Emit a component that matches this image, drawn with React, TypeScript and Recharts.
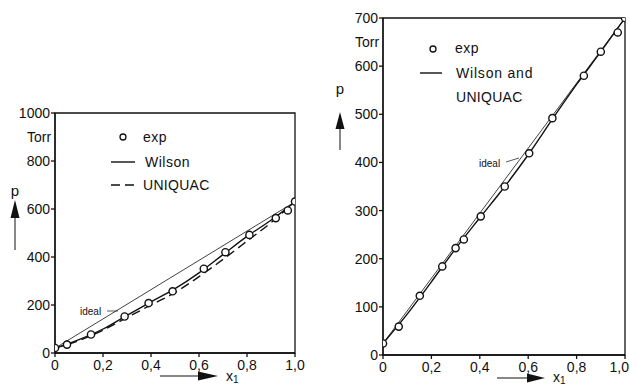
import React from "react";
import { ComposedChart, Line, Scatter, XAxis, YAxis, ReferenceArea } from "recharts";

// ---- Left panel data ----
const leftExpX = [0, 0.05, 0.15, 0.29, 0.39, 0.49, 0.62, 0.71, 0.81, 0.92, 0.97, 1.0];
const leftExpP = [21, 35, 77, 152, 208, 257, 351, 420, 492, 562, 594, 631];
const leftCurveX = [0, 0.1, 0.2, 0.3, 0.4, 0.5, 0.6, 0.7, 0.8, 0.9, 1.0];
const leftWilsonP = [20, 56, 100, 157, 213, 268, 334, 410, 486, 553, 630];
const leftUniquacP = [20, 52, 95, 148, 200, 252, 318, 390, 466, 543, 630];
const leftIdealX = [0, 1];
const leftIdealP = [20, 630];

// ---- Right panel data ----
const rightExpX = [0, 0.065, 0.152, 0.245, 0.3, 0.334, 0.404, 0.503, 0.604, 0.7, 0.83, 0.9, 0.97, 1.0];
const rightExpP = [24, 59, 123, 184, 222, 240, 288, 350, 419, 492, 580, 630, 670, 700];
const rightCurveX = [0, 0.1, 0.2, 0.3, 0.4, 0.5, 0.6, 0.7, 0.8, 0.9, 1.0];
const rightWilsonP = [24, 85, 152, 221, 285, 348, 416, 490, 562, 630, 700];
const rightIdealX = [0, 1];
const rightIdealP = [24, 700];

const xTicks = [0, 0.2, 0.4, 0.6, 0.8, 1.0];
const leftYTicks = [0, 200, 400, 600, 800, 1000];
const rightYTicks = [0, 100, 200, 300, 400, 500, 600, 700];

const zip = (xs: number[], ps: number[]) => xs.map((x, i) => ({ x, p: ps[i] }));

const INK = "#111";
const FONT = "'Liberation Sans', Arial, sans-serif";
const tickStyle = { fontSize: 14, fill: INK, fontFamily: FONT };
const fmtX = (v: number) => (v === 0 ? "0" : v.toFixed(1).replace(".", ","));

const ExpDot = (props: any) => {
  const { cx, cy } = props;
  if (cx == null || cy == null) return null;
  return <circle cx={cx} cy={cy} r={3.6} fill="#fff" stroke={INK} strokeWidth={1.4} />;
};

// X tick that keeps the label inside the chart box when it would overflow
const makeXTick = (chartWidth: number) => (props: any) => {
  const { x, y, payload } = props;
  const label = fmtX(payload.value);
  const half = 10;
  const overflow = x + half > chartWidth - 1;
  return (
    <text
      x={overflow ? chartWidth - 1 : x}
      y={y}
      dy="0.71em"
      textAnchor={overflow ? "end" : "middle"}
      fontSize={14}
      fontFamily={FONT}
      fill={INK}
    >
      {label}
    </text>
  );
};

function Panel(props: {
  left: number;
  top: number;
  right: number;
  yAxisWidth: number;
  yMax: number;
  yTicks: number[];
  exp: { x: number; p: number }[];
  ideal: { x: number; p: number }[];
  wilson: { x: number; p: number }[];
  uniquac?: { x: number; p: number }[];
  bottom: number;
}) {
  return (
    <div style={{ position: "absolute", left: props.left, top: 0, width: 310, height: 390 }}>
      <ComposedChart
        width={310}
        height={390}
        margin={{ top: props.top, right: props.right, bottom: props.bottom, left: 0 }}
      >
        <XAxis
          xAxisId="b"
          type="number"
          dataKey="x"
          domain={[0, 1]}
          ticks={xTicks}
          allowDataOverflow
          height={30}
          tickSize={4}
          tickMargin={3}
          stroke={INK}
          strokeWidth={1.3}
          tick={makeXTick(310)}
          interval={0}
        />
        <YAxis
          yAxisId="l"
          type="number"
          dataKey="p"
          domain={[0, props.yMax]}
          ticks={props.yTicks}
          allowDataOverflow
          width={props.yAxisWidth}
          tickSize={4}
          tickMargin={1}
          stroke={INK}
          strokeWidth={1.3}
          tick={tickStyle}
          interval={0}
        />
        <ReferenceArea
          xAxisId="b"
          yAxisId="l"
          x1={0}
          x2={1}
          y1={0}
          y2={props.yMax}
          fill="none"
          fillOpacity={0}
          stroke={INK}
          strokeWidth={1.3}
          ifOverflow="visible"
        />
        <Line
          xAxisId="b"
          yAxisId="l"
          data={props.ideal}
          dataKey="p"
          type="linear"
          stroke={INK}
          strokeWidth={0.8}
          dot={false}
          isAnimationActive={false}
        />
        {props.uniquac && (
          <Line
            xAxisId="b"
            yAxisId="l"
            data={props.uniquac}
            dataKey="p"
            type="monotone"
            stroke={INK}
            strokeWidth={1.4}
            strokeDasharray="9 5"
            dot={false}
            isAnimationActive={false}
          />
        )}
        <Line
          xAxisId="b"
          yAxisId="l"
          data={props.wilson}
          dataKey="p"
          type="monotone"
          stroke={INK}
          strokeWidth={1.4}
          dot={false}
          isAnimationActive={false}
        />
        <Scatter
          xAxisId="b"
          yAxisId="l"
          data={props.exp}
          dataKey="p"
          shape={ExpDot}
          isAnimationActive={false}
        />
      </ComposedChart>
    </div>
  );
}

const txt = { fontFamily: FONT, fill: INK } as const;

export default function App() {
  return (
    <div style={{ position: "absolute", left: 0, top: 0, width: 630, height: 390, background: "#fff" }}>
      <Panel
        left={0}
        top={113}
        right={15}
        bottom={7}
        yAxisWidth={55}
        yMax={1000}
        yTicks={leftYTicks}
        exp={zip(leftExpX, leftExpP)}
        ideal={zip(leftIdealX, leftIdealP)}
        wilson={zip(leftCurveX, leftWilsonP)}
        uniquac={zip(leftCurveX, leftUniquacP)}
      />
      <Panel
        left={320}
        top={18}
        right={5}
        bottom={5}
        yAxisWidth={63}
        yMax={700}
        yTicks={rightYTicks}
        exp={zip(rightExpX, rightExpP)}
        ideal={zip(rightIdealX, rightIdealP)}
        wilson={zip(rightCurveX, rightWilsonP)}
      />
      <svg
        width={630}
        height={390}
        style={{ position: "absolute", left: 0, top: 0, pointerEvents: "none" }}
      >
        {/* Left panel labels */}
        <text x={27} y={137} fontSize={14} dominantBaseline="central" {...txt}>Torr</text>
        <text x={15} y={190} fontSize={15} textAnchor="middle" dominantBaseline="central" {...txt}>p</text>
        <polygon points="15,200 10.5,218 19.5,218" fill={INK} />
        <line x1={15} y1={218} x2={15} y2={250} stroke={INK} strokeWidth={1} />
        <line x1={160} y1={376} x2={200} y2={376} stroke={INK} strokeWidth={1.2} />
        <polygon points="218,376 198,371.5 198,380.5" fill={INK} />
        <text x={226} y={376} fontSize={14} dominantBaseline="central" {...txt}>
          x<tspan fontSize={10} dy={3}>1</tspan>
        </text>
        {/* Left legend */}
        <circle cx={123} cy={137} r={3} fill="#fff" stroke={INK} strokeWidth={1.3} />
        <text x={143} y={137} fontSize={14} dominantBaseline="central" letterSpacing={0.5} {...txt}>exp</text>
        <line x1={111} y1={162} x2={135} y2={162} stroke={INK} strokeWidth={1.4} />
        <text x={145} y={162} fontSize={14} dominantBaseline="central" letterSpacing={0.5} {...txt}>Wilson</text>
        <line x1={111} y1={185} x2={137} y2={185} stroke={INK} strokeWidth={1.4} strokeDasharray="9 5" />
        <text x={143} y={185} fontSize={14} dominantBaseline="central" letterSpacing={0.3} {...txt}>UNIQUAC</text>
        <text x={80} y={311} fontSize={10} dominantBaseline="central" {...txt}>ideal</text>
        <line x1={107} y1={311} x2={118} y2={311} stroke={INK} strokeWidth={0.7} />

        {/* Right panel labels */}
        <text x={355} y={42} fontSize={14} dominantBaseline="central" {...txt}>Torr</text>
        <text x={340} y={88} fontSize={15} textAnchor="middle" dominantBaseline="central" {...txt}>p</text>
        <polygon points="340,112 335.5,129 344.5,129" fill={INK} />
        <line x1={340} y1={129} x2={340} y2={150} stroke={INK} strokeWidth={1} />
        <line x1={497} y1={378} x2={530} y2={378} stroke={INK} strokeWidth={1.2} />
        <polygon points="545,378 527,373.5 527,382.5" fill={INK} />
        <text x={553} y={377} fontSize={14} dominantBaseline="central" {...txt}>
          x<tspan fontSize={10} dy={3}>1</tspan>
        </text>
        {/* Right legend */}
        <circle cx={433} cy={49} r={3} fill="#fff" stroke={INK} strokeWidth={1.3} />
        <text x={455} y={48} fontSize={14} dominantBaseline="central" letterSpacing={0.5} {...txt}>exp</text>
        <line x1={420} y1={73} x2={442} y2={73} stroke={INK} strokeWidth={1.4} />
        <text x={456} y={73} fontSize={14} dominantBaseline="central" letterSpacing={0.8} {...txt}>Wilson  and</text>
        <text x={456} y={97} fontSize={14} dominantBaseline="central" letterSpacing={0.3} {...txt}>UNIQUAC</text>
        <text x={479} y={163} fontSize={10} dominantBaseline="central" {...txt}>ideal</text>
        <line x1={506} y1={162} x2={519} y2={158} stroke={INK} strokeWidth={0.7} />
      </svg>
    </div>
  );
}
